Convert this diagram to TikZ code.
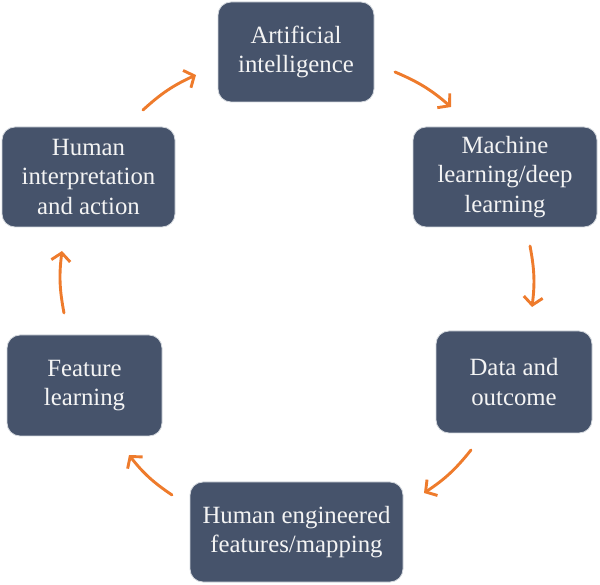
\documentclass[tikz,border=0pt]{standalone}
\usepackage{fontspec}
\setmainfont{Liberation Serif}
\usetikzlibrary{arrows.meta}
\definecolor{boxfill}{HTML}{46536B}
\definecolor{boxline}{HTML}{D3D7DD}
\definecolor{arrowc}{HTML}{EE7B2C}
\definecolor{txt}{HTML}{F4F4F4}
\begin{document}
\begin{tikzpicture}[x=1pt,y=1pt,
  stagebox/.style={draw=boxline, line width=0.8pt, fill=boxfill, rounded corners=13pt,
    text=txt, align=center, inner sep=0pt,
    font=\fontsize{24.8}{29.5}\selectfont},
  cyc/.style={draw=arrowc, line width=2.9pt, line cap=round,
    -{Straight Barb[length=8pt,width=19pt,line width=2.9pt]}, bend left=9}]
\useasboundingbox (0,0) rectangle (600,584);
\node[stagebox, minimum width=156pt, minimum height=100pt] (ai) at (296,532) {Artificial\\intelligence};
\node[stagebox, minimum width=184pt, minimum height=100pt] (ml) at (505,407) {Machine\\learning/deep\\learning};
\node[stagebox, minimum width=156pt, minimum height=102pt] (data) at (514,202) {Data and\\outcome};
\node[stagebox, minimum width=213pt, minimum height=100pt] (eng) at (296.5,52) {Human engineered\\features/mapping};
\node[stagebox, minimum width=155pt, minimum height=101pt] (feat) at (84.5,198.5) {Feature\\learning};
\node[stagebox, minimum width=173pt, minimum height=100pt] (hum) at (88.5,407) {Human\\interpretation\\and action};
\coordinate (a1s) at (395,512); \coordinate (a1e) at (451,477);
\coordinate (a2s) at (530,338); \coordinate (a2e) at (532,277);
\coordinate (a3s) at (471,134); \coordinate (a3e) at (424,91);
\coordinate (a4s) at (172,89);  \coordinate (a4e) at (129,129);
\coordinate (a5s) at (64,271);  \coordinate (a5e) at (62,333);
\coordinate (a6s) at (143,474); \coordinate (a6e) at (196,509);
\draw[cyc] (a1s) to (a1e);
\draw[cyc] (a2s) to (a2e);
\draw[cyc] (a3s) to (a3e);
\draw[cyc] (a4s) to (a4e);
\draw[cyc] (a5s) to (a5e);
\draw[cyc] (a6s) to (a6e);
\end{tikzpicture}
\end{document}
